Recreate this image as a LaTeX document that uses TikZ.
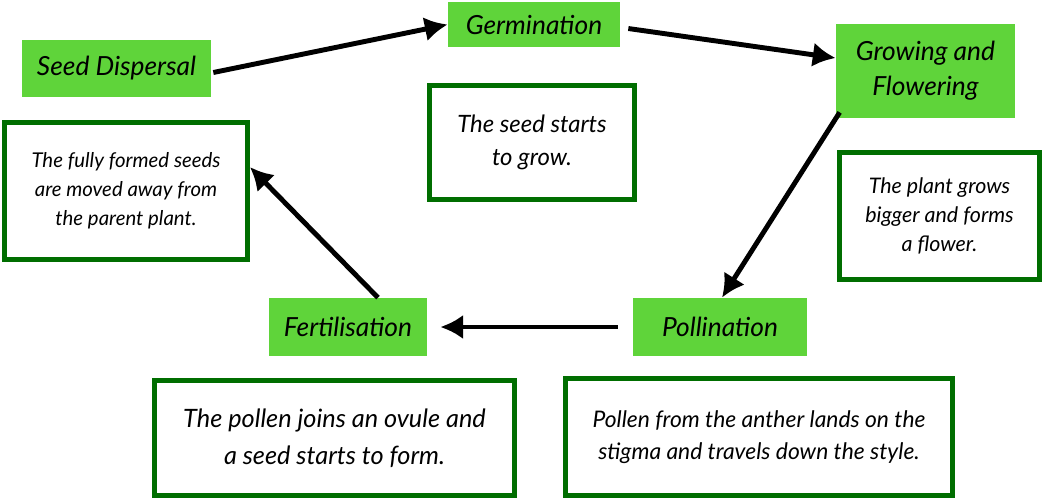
\documentclass[tikz,border=0pt]{standalone}
\usepackage{fontspec}
\setmainfont{Lato}
\usepackage{xcolor}
\usepackage{tikz}
\usetikzlibrary{arrows.meta}
\definecolor{stagegreen}{HTML}{5FD43A}
\definecolor{framegreen}{HTML}{006E00}
\tikzstyle{arrow} = [-{Latex[length=13pt,width=14pt]}, line width=2.8pt]
\tikzstyle{stage} = [fill=stagegreen, draw=none, align=center, font=\itshape\fontsize{15}{20}\selectfont]
\tikzstyle{info} = [fill=white, draw=framegreen, line width=2.8pt, align=center, font=\itshape\fontsize{11.6}{16.4}\selectfont]

\begin{document}
\begin{tikzpicture}[x=0.02cm, y=-0.02cm]
		\useasboundingbox (0,0) rectangle (1056,501);
		\node (disp) [stage, minimum width=3.78cm, minimum height=1.14cm] at (116.5,68.5) {Seed Dispersal};
		\node (germ) [stage, minimum width=3.44cm, minimum height=0.9cm] at (534,24.5) {Germination};
		\node (grow) [stage, minimum width=3.58cm, minimum height=1.88cm] at (925.5,71) {Growing and\\Flowering};
		\node (poll) [stage, minimum width=3.48cm, minimum height=1.16cm] at (720,327) {Pollination};
		\node (fert) [stage, minimum width=3.16cm, minimum height=1.16cm] at (348,327) {Fertilisation};

		\node (dispinfo) [info, minimum width=4.86cm, minimum height=2.74cm] at (126,191) {The fully formed seeds\\are moved away from\\the parent plant.};
		\node (germinfo) [info, minimum width=4.1cm, minimum height=2.28cm, font=\itshape\fontsize{13.6}{19}\selectfont] at (532,142.5) {The seed starts\\to grow.};
		\node (growinfo) [info, minimum width=4.0cm, minimum height=2.54cm, font=\itshape\fontsize{12.2}{16.4}\selectfont] at (939.5,216) {The plant grows\\bigger and forms\\a flower.};
		\node (fertinfo) [info, minimum width=7.2cm, minimum height=2.3cm, font=\itshape\fontsize{14.4}{21}\selectfont] at (334.5,438) {The pollen joins an ovule and\\a seed starts to form.};
		\node (pollinfo) [info, minimum width=7.74cm, minimum height=2.34cm, font=\itshape\fontsize{13}{18}\selectfont] at (759,437) {Pollen from the anther lands on the\\stigma and travels down the style.};

		\draw [arrow] (disp.east) ++(2,4) -- (germ.west);
		\draw [arrow] (germ.east) ++(8,4) -- ([yshift=0.26cm]grow.west);
		\draw [arrow] (grow.south west) ++(4,-6) -- ([xshift=0.04cm]poll.north);
		\draw [arrow] ([xshift=-0.3cm]poll.west) -- ([xshift=0.26cm]fert.east);
		\draw [arrow] ([xshift=0.6cm]fert.north) -- ([yshift=0.48cm]dispinfo.east);
	\end{tikzpicture}
\end{document}
